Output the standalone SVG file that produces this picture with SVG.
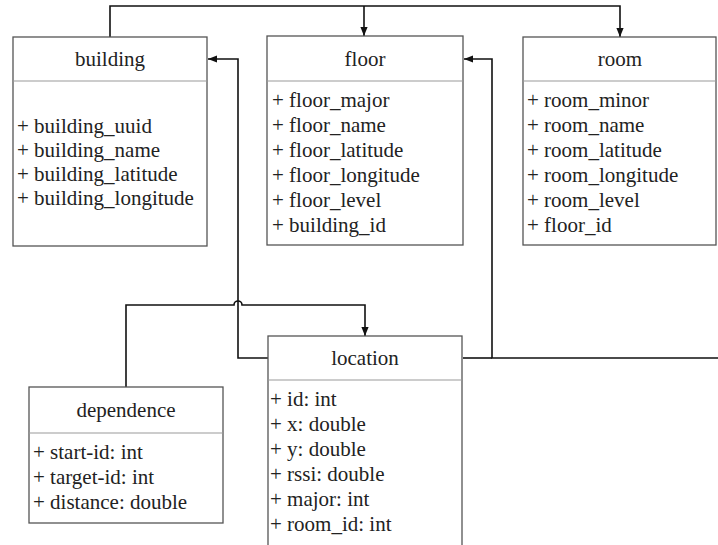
<svg xmlns="http://www.w3.org/2000/svg" width="718" height="545" viewBox="0 0 718 545">
<defs>
<style>
.box{fill:#fff;stroke:#555;stroke-width:1.3}
.div{stroke:#999;stroke-width:1.2}
.t{font-family:'Liberation Serif','Times New Roman','DejaVu Serif',serif;font-size:21px;fill:#222}
.c{text-anchor:middle}
.con{fill:none;stroke:#111;stroke-width:1.6}
</style>
<marker id="ar" viewBox="0 0 10 10" refX="10" refY="5" markerWidth="9" markerHeight="9" markerUnits="userSpaceOnUse" orient="auto">
<path d="M0,1 L10,5 L0,9 Z" fill="#111"/>
</marker>
</defs>
<rect width="718" height="545" fill="#fff"/>
<g id="connectors">
<path class="con" d="M110,37 V6 H620 V37" marker-end="url(#ar)"/>
<path class="con" d="M364,6 V36" marker-end="url(#ar)"/>
<path class="con" d="M268,358 H238 V59 H208" marker-end="url(#ar)"/>
<path class="con" d="M718,358 H492 V59 H464" marker-end="url(#ar)"/>
<path class="con" d="M463,358 H492"/>
<path class="con" d="M126,387 V305 H234 a4,4 0 0 1 8,0 H365 V336" marker-end="url(#ar)"/>
</g>
<g id="building">
<rect class="box" x="13" y="37" width="194" height="209"/>
<line class="div" x1="13" y1="81" x2="207" y2="81"/>
<text class="t c" x="110" y="66">building</text>
<text class="t" x="17" y="133">+ building_uuid</text>
<text class="t" x="17" y="157">+ building_name</text>
<text class="t" x="17" y="181">+ building_latitude</text>
<text class="t" x="17" y="205">+ building_longitude</text>
</g>
<g id="floor">
<rect class="box" x="267" y="36" width="196" height="209"/>
<line class="div" x1="267" y1="81" x2="463" y2="81"/>
<text class="t c" x="365" y="66">floor</text>
<text class="t" x="272" y="107">+ floor_major</text>
<text class="t" x="272" y="132">+ floor_name</text>
<text class="t" x="272" y="157">+ floor_latitude</text>
<text class="t" x="272" y="182">+ floor_longitude</text>
<text class="t" x="272" y="207">+ floor_level</text>
<text class="t" x="272" y="232">+ building_id</text>
</g>
<g id="room">
<rect class="box" x="523" y="37" width="193" height="208"/>
<line class="div" x1="523" y1="81" x2="716" y2="81"/>
<text class="t c" x="620" y="66">room</text>
<text class="t" x="527" y="107">+ room_minor</text>
<text class="t" x="527" y="132">+ room_name</text>
<text class="t" x="527" y="157">+ room_latitude</text>
<text class="t" x="527" y="182">+ room_longitude</text>
<text class="t" x="527" y="207">+ room_level</text>
<text class="t" x="527" y="232">+ floor_id</text>
</g>
<g id="location">
<rect class="box" x="268" y="336" width="194" height="220"/>
<line class="div" x1="268" y1="380" x2="462" y2="380"/>
<text class="t c" x="365" y="365">location</text>
<text class="t" x="270" y="406">+ id: int</text>
<text class="t" x="270" y="431">+ x: double</text>
<text class="t" x="270" y="456">+ y: double</text>
<text class="t" x="270" y="481">+ rssi: double</text>
<text class="t" x="270" y="506">+ major: int</text>
<text class="t" x="270" y="531">+ room_id: int</text>
</g>
<g id="dependence">
<rect class="box" x="29" y="387" width="194" height="136"/>
<line class="div" x1="29" y1="433" x2="223" y2="433"/>
<text class="t c" x="126" y="417">dependence</text>
<text class="t" x="33" y="459">+ start-id: int</text>
<text class="t" x="33" y="484">+ target-id: int</text>
<text class="t" x="33" y="509">+ distance: double</text>
</g>
</svg>
